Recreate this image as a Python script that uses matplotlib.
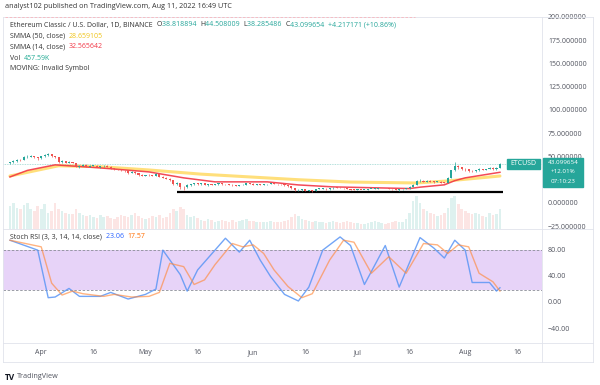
import matplotlib.pyplot as plt
import matplotlib.transforms as mtransforms
from matplotlib.patches import Rectangle
from matplotlib.lines import Line2D
import numpy as np
import pandas as pd

W, H = 600, 385

# daily ETC/USD candles, Mar 23 .. Aug 11 2022
dates = pd.date_range("2022-03-23", "2022-08-11", freq="D")
first_open = 43.5
closes = [
    44.7, 46.0, 47.2, 47.0, 50.1, 50.5, 51.3, 50.0, 48.9,
    51.2, 52.3, 53.2, 51.0, 50.1, 45.2, 46.0, 44.2, 45.0, 44.1,
    40.2, 41.1, 42.0, 40.1, 41.0, 41.2, 40.0, 40.3, 41.1, 40.0,
    38.2, 37.0, 36.8, 36.1, 36.0, 33.2, 34.0, 33.1, 31.3, 30.2,
    31.0, 30.8, 30.0, 32.1, 29.0, 28.2, 27.1, 25.2, 21.1, 22.0,
    18.6, 18.0, 20.1, 21.0, 22.5, 21.2, 22.0, 20.1, 21.0, 20.8,
    21.1, 22.0, 21.0, 20.9, 20.8, 20.1, 19.5, 20.0, 20.6, 22.1, 21.9,
    20.5, 21.0, 20.4, 21.0, 21.1, 22.0, 21.5, 21.0, 20.9, 20.0,
    19.0, 17.0, 14.5, 15.0, 15.6, 14.0, 14.6, 14.4, 16.0, 16.1,
    16.5, 15.6, 16.6, 17.6, 17.5, 17.0, 16.8, 16.0, 15.4, 15.0,
    15.1, 15.0, 15.2, 16.0, 16.1, 16.3, 17.0, 17.1, 16.9, 16.3,
    15.5, 15.0, 15.6, 16.0, 16.6, 18.6, 20.6, 24.2, 25.0, 24.0,
    25.1, 24.0, 23.6, 24.0, 23.0, 22.8, 28.1, 36.0, 41.0, 39.2, 37.1,
    37.0, 35.2, 35.0, 36.1, 37.6, 36.5, 37.5, 39.0, 37.2, 38.9, 43.1,
]
highs = [
    45.5, 46.8, 48.0, 48.5, 51.0, 52.5, 53.0, 52.0, 50.5,
    52.0, 53.5, 54.5, 53.8, 51.8, 50.5, 46.8, 46.5, 45.8, 45.5,
    44.5, 42.0, 43.0, 42.5, 41.8, 42.0, 41.5, 41.0, 42.0, 41.8,
    40.5, 38.8, 37.8, 37.2, 36.8, 36.3, 35.0, 35.5, 33.5, 31.8,
    31.5, 32.0, 31.2, 32.8, 32.5, 29.5, 28.8, 27.5, 25.5, 23.5,
    23.0, 19.5, 21.0, 21.8, 23.0, 22.8, 22.6, 22.3, 21.5, 21.6,
    21.8, 22.5, 22.4, 21.5, 21.4, 21.2, 20.5, 20.4, 21.0, 22.5, 22.6,
    22.2, 21.4, 21.2, 21.3, 21.5, 22.5, 22.4, 21.8, 21.3, 21.0,
    20.2, 19.2, 17.2, 15.8, 16.2, 16.0, 15.0, 15.0, 16.4, 16.6,
    17.0, 16.8, 16.9, 18.0, 18.2, 17.8, 17.4, 17.0, 16.2, 15.6,
    15.5, 15.3, 15.4, 16.3, 16.5, 16.8, 17.3, 17.6, 17.3, 17.0,
    16.4, 15.7, 15.8, 16.2, 17.0, 19.0, 21.0, 25.5, 26.5, 25.8,
    25.8, 25.5, 24.5, 24.6, 24.3, 23.5, 28.5, 36.8, 45.0, 42.0, 40.0,
    38.2, 37.5, 36.0, 36.8, 38.2, 38.0, 37.8, 40.0, 39.5, 39.3, 44.5,
]
lows = [
    42.8, 44.0, 45.5, 46.0, 46.8, 49.0, 50.0, 49.0, 47.5,
    48.0, 50.5, 51.5, 50.5, 49.0, 44.5, 44.0, 43.5, 43.8, 43.5,
    39.5, 39.0, 40.5, 39.5, 39.8, 40.5, 39.2, 38.5, 39.8, 39.5,
    37.5, 36.5, 36.0, 35.2, 34.5, 32.5, 32.8, 32.5, 30.5, 29.8,
    29.5, 30.0, 29.5, 29.8, 28.5, 27.5, 26.8, 24.5, 20.5, 20.5,
    16.5, 14.8, 17.5, 19.5, 20.5, 20.8, 20.8, 19.8, 19.6, 20.2,
    20.5, 20.8, 20.6, 20.4, 20.3, 19.6, 19.0, 19.2, 19.8, 20.4, 21.5,
    20.2, 20.1, 20.0, 20.2, 20.7, 20.9, 21.0, 20.6, 20.5, 19.6,
    18.6, 16.5, 14.0, 13.8, 14.2, 13.5, 13.6, 13.0, 14.2, 15.7,
    15.8, 15.4, 15.4, 16.4, 17.1, 16.7, 16.5, 15.8, 15.0, 14.6,
    14.7, 14.8, 14.9, 15.0, 15.5, 15.8, 16.1, 16.8, 16.6, 16.1,
    15.3, 14.8, 14.4, 15.3, 15.8, 16.5, 18.4, 20.3, 23.5, 23.2,
    23.5, 23.6, 23.0, 23.2, 22.5, 22.0, 22.6, 27.8, 35.5, 38.0, 36.5,
    35.5, 34.5, 34.0, 34.8, 35.8, 36.0, 36.2, 37.2, 36.8, 36.9, 38.3,
]
volume = [
    70, 80, 65, 60, 72, 78, 60, 55, 70,
    62, 75, 50, 55, 80, 60, 55, 50, 45,
    45, 60, 50, 42, 40, 42, 35, 32, 42, 35, 40, 32, 30, 35, 42, 40, 35, 42, 48, 40, 32,
    30, 32, 40, 35, 42, 32, 35, 48, 60, 55, 68, 62, 42, 35, 40, 32, 28, 25, 30, 28,
    22, 25, 28, 25, 22, 28, 22, 25, 28, 30, 25,
    25, 22, 20, 20, 22, 25, 22, 20, 22, 25, 28, 35, 45, 40, 30, 28, 25, 22, 25, 22,
    20, 18, 22, 25, 20, 18, 22, 25, 20, 18,
    18, 15, 14, 18, 22, 25, 22, 18, 16, 18, 22, 25, 20, 22, 30, 50, 85, 100, 80, 60,
    55, 50, 45, 40, 42, 50, 65, 95, 100, 75, 60,
    55, 50, 45, 50, 45, 40, 35, 50, 42, 45, 60,
]

# smoothed moving averages (day index, price)
smma50_idx = [0, 14, 26, 40, 55, 69, 83, 98, 117, 126, 141]
smma50_val = [30, 41, 40, 36.5, 32, 29, 26, 23.5, 22.5, 24.7, 30]
smma14_idx = [0, 5, 13, 26, 40, 50, 59, 74, 83, 93, 115, 118, 125, 128, 131, 136, 141]
smma14_val = [29, 36, 42, 38.7, 34.4, 28, 23.7, 23.7, 20.4, 18.3, 16.5, 18, 20.5, 25, 28, 31, 34]

# Stoch RSI %K / %D turning points
k_idx = [0, 8, 11, 13, 17, 20, 26, 29, 34, 39, 42, 44, 49, 51, 54, 57, 62, 66, 69, 72,
         75, 79, 83, 86, 90, 95, 98, 102, 108, 112, 118, 122, 125, 128, 131, 133, 138, 140, 141]
k_val = [95, 80, 8, 9, 22, 10, 10, 16, 6, 13, 21, 80, 43, 18, 50, 68, 98, 77, 95, 65,
         40, 13, 3, 24, 80, 100, 87, 28, 87, 24, 99, 83, 68, 95, 80, 31, 31, 18, 23]
d_idx = [0, 9, 12, 15, 18, 21, 27, 30, 35, 40, 43, 46, 50, 53, 56, 59, 64, 67, 70,
         73, 76, 80, 84, 87, 92, 96, 99, 104, 109, 114, 119, 123, 126, 129, 132, 135, 139, 141]
d_val = [95, 85, 30, 12, 18, 14, 10, 13, 9, 10, 16, 60, 55, 28, 35, 58, 90, 85, 88,
         75, 50, 25, 8, 14, 65, 95, 92, 45, 70, 45, 90, 88, 75, 88, 85, 45, 32, 18]

support_level = 12.9
support_from = 48
last_price = 43.1

# the 25 label sits under the price tag in the reference, so it is left out
price_ticks = [200, 175, 150, 125, 100, 75, 50, 0, -25]
rsi_ticks = [80, 40, 0, -40]
date_ticks = ["2022-04-01", "2022-04-16", "2022-05-01", "2022-05-16", "2022-06-01",
              "2022-06-16", "2022-07-01", "2022-07-16", "2022-08-01", "2022-08-16"]
date_labels = ["Apr", "16", "May", "16", "Jun", "16", "Jul", "16", "Aug", "16"]

UP, DOWN = "#26a69a", "#ef5350"
GRID = "#e0e3eb"
TXT = "#50535e"
DARK = "#333333"
plt.rcParams["font.family"] = ["Open Sans", "DejaVu Sans"]


def fx(x):
    return x / W


def fy(y):
    return 1 - y / H


def chain(fig, x0, y0, parts, size=5):
    # pieces of one legend row, each placed right after the previous one
    prev = fig.text(fx(x0), fy(y0), parts[0][0], fontsize=size, color=parts[0][1],
                    va="center")
    for s, color in parts[1:]:
        prev = fig.add_artist(plt.Annotation(
            s, xy=(1, fy(y0)), xycoords=(prev, "figure fraction"),
            fontsize=size, color=color, va="center", ha="left"))


def main():
    fig = plt.figure(figsize=(W / 100, H / 100), dpi=100)
    fig.patch.set_facecolor("white")

    x = np.arange(len(closes))
    c = np.array(closes)
    o = np.array([first_open] + closes[:-1])
    col = np.where(c >= o, UP, DOWN)

    ax = fig.add_axes([fx(3), fy(229), fx(539), (229 - 17) / H])
    rsi = fig.add_axes([fx(3), fy(343), fx(539), (343 - 229) / H], sharex=ax)
    for a in (ax, rsi):
        a.set_xlim(-2.0, 153.1)
        for s in a.spines.values():
            s.set_visible(False)
        a.set_xticks([])
        a.set_yticks([])
    ax.set_ylim(-27, 201)
    rsi.set_ylim(-60.6, 112)

    # volume on its own hidden scale
    vax = ax.twinx()
    vax.set_ylim(0, max(volume) / 0.155)
    vax.bar(x, volume, width=0.75, color=col, alpha=0.15, linewidth=0)
    vax.axis("off")
    vax.set_zorder(ax.get_zorder() - 1)
    ax.patch.set_visible(False)

    # price line and support
    ax.axhline(last_price, color="#80cbc4", lw=0.6, ls=(0, (1, 1)), alpha=0.8)
    ax.hlines(support_level, support_from, len(closes), color="black", lw=1.6, zorder=2)

    # moving averages
    ax.plot(smma50_idx, smma50_val, color="#ffd54f", lw=2.2, alpha=0.75, solid_capstyle="round")
    ax.plot(smma14_idx, smma14_val, color="#f23645", lw=1.1, alpha=0.9)

    # candles
    ax.vlines(x, lows, highs, color=col, lw=0.5, zorder=3)
    body = np.maximum(np.abs(c - o), 0.6)
    ax.bar(x, body, bottom=np.minimum(o, c), width=0.6, color=col, linewidth=0, zorder=4)

    # stoch RSI
    rsi.axhspan(20, 80, color="#e7d3f8", lw=0)
    rsi.axhline(80, color="#8a8d97", lw=0.6, ls=(0, (3, 2)))
    rsi.axhline(20, color="#8a8d97", lw=0.6, ls=(0, (3, 2)))
    rsi.plot(k_idx, k_val, color="#5b96f5", lw=1.0, alpha=0.85)
    rsi.plot(d_idx, d_val, color="#ff8a3d", lw=1.0, alpha=0.65)

    # right axis labels
    tr_p = mtransforms.blended_transform_factory(ax.transAxes, ax.transData)
    for p in price_ticks:
        ax.text(1.0111, p, f"{p:.6f}".replace("-", "\u2212"), transform=tr_p, fontsize=5,
                color=TXT, va="center", ha="left", clip_on=False)
    tr_r = mtransforms.blended_transform_factory(rsi.transAxes, rsi.transData)
    for r in rsi_ticks:
        rsi.text(1.0111, r, f"{r:.2f}".replace("-", "\u2212"), transform=tr_r, fontsize=5,
                 color=TXT, va="center", ha="left", clip_on=False)

    # date labels
    for d, lab in zip(date_ticks, date_labels):
        xi = (pd.Timestamp(d) - dates[0]).days
        rsi.annotate(lab, xy=(xi, 0), xycoords=("data", "axes fraction"), xytext=(0, -7),
                     textcoords="offset points", ha="center", va="center", fontsize=5,
                     color=TXT, annotation_clip=False)

    # frame lines
    for (x0, y0, x1, y1) in [(3, 17, 593, 17), (3, 229, 593, 229), (3, 343, 593, 343),
                             (3, 362, 593, 362), (542, 17, 542, 362), (593, 17, 593, 362),
                             (3, 17, 3, 362)]:
        fig.add_artist(Line2D([fx(x0), fx(x1)], [fy(y0), fy(y1)], color=GRID, lw=0.6))
    fig.add_artist(Line2D([fx(5), fx(415)], [fy(17), fy(17)], color="#f7b6bd", lw=0.6,
                          ls=(0, (3, 2))))

    # price tags
    fig.add_artist(Rectangle((fx(507), fy(169)), fx(33), 10 / H, color=UP, zorder=10))
    fig.text(fx(523.5), fy(164), "ETCUSD", fontsize=5, color="white", ha="center",
             va="center", zorder=11)
    fig.add_artist(Rectangle((fx(543), fy(187)), fx(40), 29 / H, color=UP, zorder=10))
    for yy, s in [(163, "43.099654"), (172, "+12.01%"), (181, "07:10:23")]:
        fig.text(fx(563), fy(yy), s, fontsize=4.5, color="white", ha="center", va="center",
                 zorder=11)

    # header and legends
    fig.text(fx(5), fy(7), "analyst102 published on TradingView.com, Aug 11, 2022 16:49 UTC",
             fontsize=5.2, color=DARK, va="center")

    legend_rows = [
        (25, [("Ethereum Classic / U.S. Dollar, 1D, BINANCE  ", DARK),
              ("O", DARK), ("38.818894  ", UP), ("H", DARK), ("44.508009  ", UP),
              ("L", DARK), ("38.285486  ", UP), ("C", DARK),
              ("43.099654  +4.217171 (+10.86%)", UP)]),
        (36, [("SMMA (50, close)  ", DARK), ("28.659105", "#f0c419")]),
        (47, [("SMMA (14, close)  ", DARK), ("32.565642", "#f23645")]),
        (58, [("Vol  ", DARK), ("457.59K", "#22ab94")]),
        (69, [("MOVING: Invalid Symbol", DARK)]),
        (237, [("Stoch RSI (3, 3, 14, 14, close)  ", DARK), ("23.06  ", "#2962ff"),
               ("17.57", "#ff6d00")]),
    ]
    for yy, parts in legend_rows:
        chain(fig, 10, yy, parts)

    # footer
    fig.text(fx(5), fy(377), "TV", fontsize=6, fontweight="bold", color="#131722", va="center")
    fig.text(fx(17), fy(377), "TradingView", fontsize=5.2, color=TXT, va="center")

    fig.savefig("out.png", dpi=100, facecolor="white")


if __name__ == "__main__":
    main()
